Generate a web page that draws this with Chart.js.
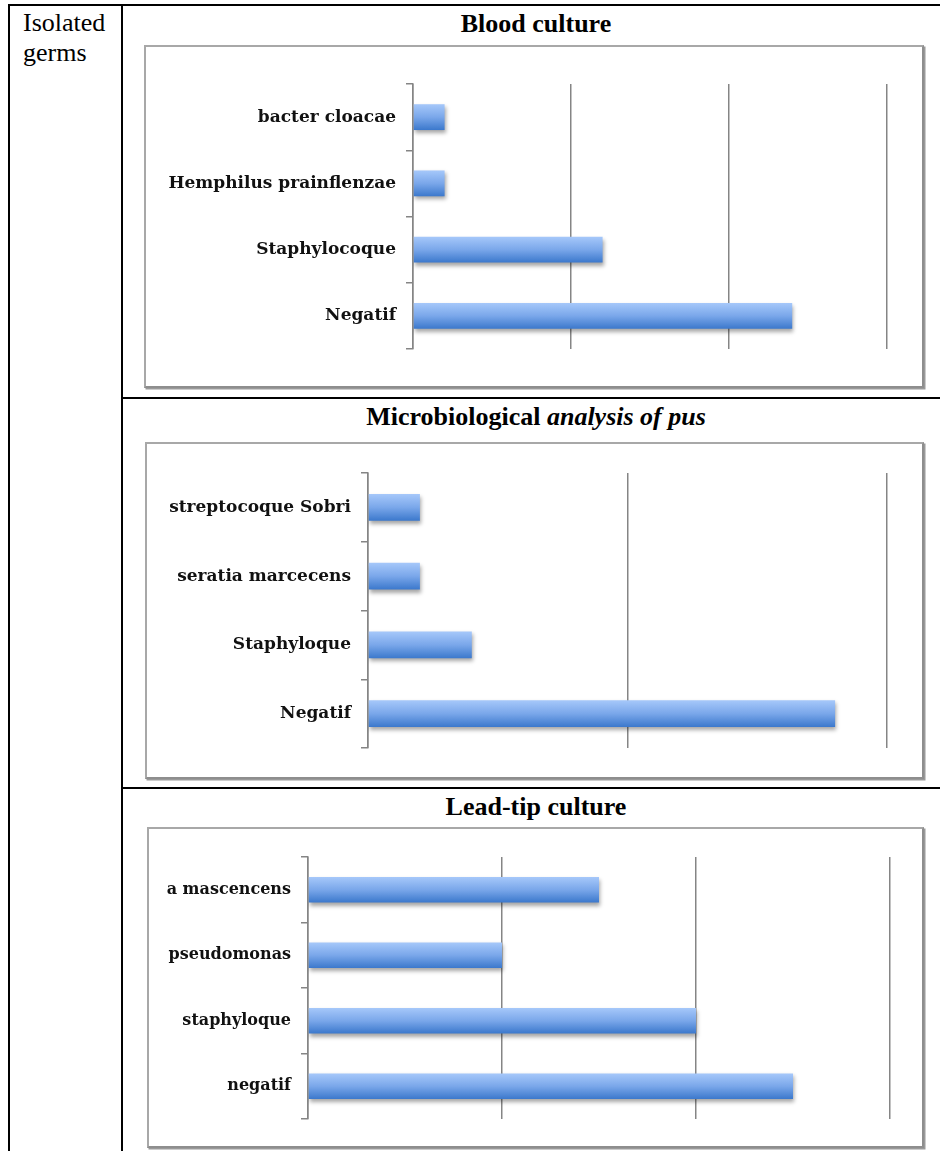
<!DOCTYPE html>
<html>
<head>
<meta charset="utf-8">
<script src="https://cdn.jsdelivr.net/npm/chart.js@4/dist/chart.umd.min.js"></script>
<style>
  body { margin: 0; background: #fff; width: 940px; height: 1151px; overflow: hidden; position: relative; font-family: "Liberation Serif", "Times New Roman", serif; }
  .line { position: absolute; background: #000; }
  .title { position: absolute; left: 122px; width: 828px; text-align: center; font-weight: bold; font-size: 26px; line-height: 30px; }
  .frame { position: absolute; box-sizing: border-box; border: 2px solid #a8a8a8; border-right-color: #8e8e8e; border-bottom-color: #8e8e8e; box-shadow: 1.5px 1.5px 0 #9a9a9a; background: #fff; }
  .frame canvas { position: absolute; left: 0; top: 0; }
  #side { position: absolute; left: 23px; top: 8px; font-size: 26px; line-height: 30px; }
</style>
</head>
<body>
<div class="line" style="left:9px; top:4px; width:931px; height:2px;"></div>
<div class="line" style="left:8px; top:4px; width:2px; height:1147px;"></div>
<div class="line" style="left:121px; top:4px; width:2px; height:1147px;"></div>
<div class="line" style="left:121px; top:397px; width:819px; height:2px;"></div>
<div class="line" style="left:121px; top:787px; width:819px; height:2px;"></div>

<div id="side">Isolated<br>germs</div>

<div class="title" style="top:9px;">Blood culture</div>
<div class="title" style="top:402px;">Microbiological <i>analysis of pus</i></div>
<div class="title" style="top:792px;">Lead-tip culture</div>

<div class="frame" style="left:144px; top:45px; width:780px; height:343px;"><canvas id="c1"></canvas></div>
<div class="frame" style="left:145px; top:442px; width:779px; height:337px;"><canvas id="c2"></canvas></div>
<div class="frame" style="left:147px; top:827px; width:777px; height:321px;"><canvas id="c3"></canvas></div>

<script>
// blood culture
const bloodLabels = ['bacter cloacae', 'Hemphilus prainflenzae', 'Staphylocoque', 'Negatif'];
const bloodValues = [1, 1, 6, 12];
const bloodTicks = [0, 5, 10, 15];

// pus
const pusLabels = ['streptocoque Sobri', 'seratia marcecens', 'Staphyloque', 'Negatif'];
const pusValues = [1, 1, 2, 9];
const pusTicks = [0, 5, 10];

// lead tip
const tipLabels = ['a mascencens', 'pseudomonas', 'staphyloque', 'negatif'];
const tipValues = [3, 2, 4, 5];
const tipTicks = [0, 2, 4, 6];

const shadowPlugin = {
  id: 'barShadow',
  beforeDatasetsDraw(chart) {
    const c = chart.ctx;
    c.save();
    c.shadowColor = 'rgba(0,0,0,0.35)';
    c.shadowBlur = 4;
    c.shadowOffsetX = 1;
    c.shadowOffsetY = 3;
  },
  afterDatasetsDraw(chart) {
    chart.ctx.restore();
  }
};

function barFill(ctx) {
  const chart = ctx.chart;
  const y = chart.scales.y;
  if (!chart.chartArea || !y) return '#6a9be0';
  const band = (y.bottom - y.top) / y.ticks.length;
  const mid = y.getPixelForValue(ctx.dataIndex);
  const h = band * 0.39;
  const g = chart.ctx.createLinearGradient(0, mid - h / 2, 0, mid + h / 2);
  g.addColorStop(0, '#a6c8fa');
  g.addColorStop(0.5, '#7aa7ea');
  g.addColorStop(1, '#3b78cc');
  return g;
}

// plot: distances from the frame edges to the axis box
function makeChart(id, w, h, labels, values, ticks, plot, fontSize) {
  const canvas = document.getElementById(id);
  canvas.width = w - 4;
  canvas.height = h - 4;
  canvas.style.width = (w - 4) + 'px';
  canvas.style.height = (h - 4) + 'px';
  const step = ticks[1] - ticks[0];
  return new Chart(canvas, {
    type: 'bar',
    data: {
      labels: labels,
      datasets: [{
        data: values,
        backgroundColor: barFill,
        borderWidth: 0,
        categoryPercentage: 1,
        barPercentage: 0.39
      }]
    },
    options: {
      indexAxis: 'y',
      responsive: false,
      animation: false,
      layout: { padding: { left: 0, top: plot.top, right: plot.right, bottom: plot.bottom } },
      plugins: { legend: { display: false }, tooltip: { enabled: false } },
      scales: {
        x: {
          min: ticks[0],
          max: ticks[ticks.length - 1],
          ticks: { display: false, stepSize: step },
          grid: { color: '#858585', lineWidth: 1.5, drawTicks: false },
          border: { display: false },
          afterFit: s => { s.height = 0; }
        },
        y: {
          ticks: {
            color: '#111',
            padding: 10,
            font: { family: 'DejaVu Serif', weight: 'bold', size: fontSize }
          },
          grid: { drawOnChartArea: false, drawTicks: true, tickLength: 7, color: '#858585', lineWidth: 1.5 },
          border: { display: true, color: '#858585', width: 1.5 },
          afterFit: s => { s.width = plot.left; }
        }
      }
    },
    plugins: [shadowPlugin]
  });
}

makeChart('c1', 780, 343, bloodLabels, bloodValues, bloodTicks, { left: 267, top: 37, right: 35, bottom: 37 }, 17);
makeChart('c2', 779, 337, pusLabels, pusValues, pusTicks, { left: 221, top: 29, right: 35, bottom: 29 }, 17);
makeChart('c3', 777, 321, tipLabels, tipValues, tipTicks, { left: 159, top: 28, right: 32, bottom: 27 }, 16);
</script>
</body>
</html>
